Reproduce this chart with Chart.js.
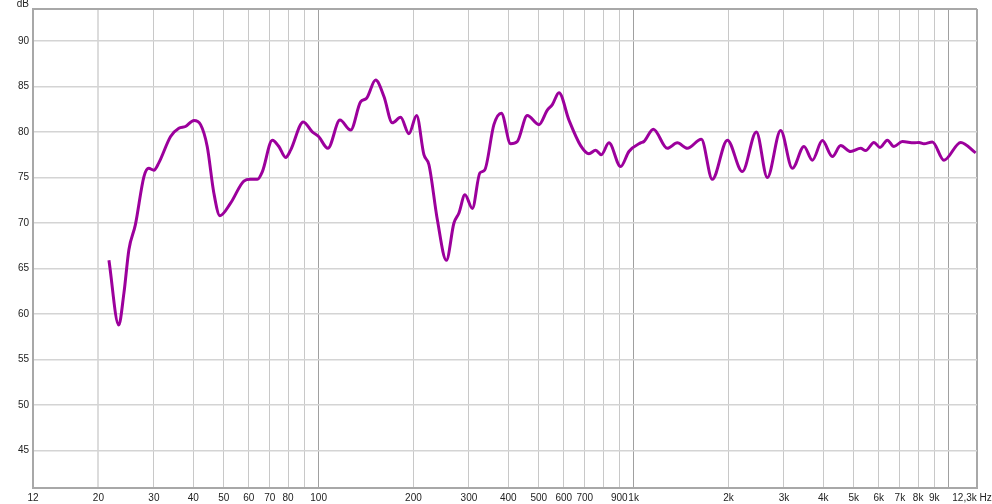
<!DOCTYPE html>
<html>
<head>
<meta charset="utf-8">
<script src="https://cdn.jsdelivr.net/npm/chart.js@4/dist/chart.umd.min.js"></script>
<style>
html,body{margin:0;padding:0;background:#fff;}
#wrap{width:992px;height:504px;}
</style>
</head>
<body>
<div id="wrap"><canvas id="c" width="992" height="504"></canvas></div>
<script>
// Frequency response (Hz -> dB)
const freqs = [21.6, 23.2, 24.1, 25.0, 26.2, 27.9, 28.9, 30.0, 31.1, 33.9, 36.0, 37.8, 40.2, 42.2, 44.3, 46.5, 48.6, 52.6, 57.9, 60.8, 63.9, 66.3, 71.3, 74.8, 78.6, 81.5, 89.4, 95.5, 100, 107, 116.9, 126.4, 135.9, 142.0, 151.7, 161.2, 171.4, 182.1, 193.5, 204.7, 215.9, 224.0, 238.2, 254.4, 268.9, 278.9, 291.4, 307.6, 325.1, 336.5, 360.1, 380.2, 406.9, 427.4, 459.6, 500.5, 532.1, 552.0, 579.4, 623.3, 678.8, 721.4, 757.6, 789.8, 834.8, 909.3, 966.2, 1052, 1078, 1155, 1279, 1376, 1481, 1640, 1777, 1984, 2213, 2452, 2657, 2929, 3190, 3473, 3693, 3972, 4274, 4541, 4886, 5256, 5451, 5792, 6052, 6389, 6702, 7129, 7760, 8050, 8346, 8878, 9662, 10920, 12180];
const levels = [65.9, 58.8, 62.3, 67.1, 69.8, 75.1, 76.0, 75.8, 76.6, 79.5, 80.4, 80.6, 81.25, 80.8, 78.4, 73.3, 70.8, 72.2, 74.6, 74.8, 74.8, 75.65, 79.1, 78.4, 77.2, 78.0, 81.1, 80.0, 79.5, 78.2, 81.3, 80.2, 83.3, 83.7, 85.7, 83.9, 81.0, 81.6, 79.8, 81.8, 77.5, 76.4, 70.35, 65.9, 70.0, 71.1, 73.1, 71.6, 75.5, 75.8, 80.8, 82.06, 78.7, 78.95, 81.8, 80.8, 82.4, 83.0, 84.3, 81.3, 78.5, 77.6, 78.0, 77.5, 78.8, 76.2, 77.85, 78.8, 78.95, 80.3, 78.2, 78.8, 78.2, 79.2, 74.8, 79.1, 75.65, 80.0, 75.0, 80.15, 76.0, 78.4, 76.9, 79.05, 77.3, 78.5, 77.85, 78.2, 77.95, 78.85, 78.3, 79.1, 78.4, 78.95, 78.8, 78.85, 78.7, 78.9, 76.9, 78.85, 77.7];

// Axis ticks
const xMin = 12.4, xMax = 12300;
const xTickValues = [12.4, 20, 30, 40, 50, 60, 70, 80, 90, 100, 200, 300, 400, 500, 600, 700, 800, 900, 1000, 2000, 3000, 4000, 5000, 6000, 7000, 8000, 9000, 10000, 12300];
const xTickLabels = ['12', '20', '30', '40', '50', '60', '70', '80', '', '100', '200', '300', '400', '500', '600', '700', '', '900', '1k', '2k', '3k', '4k', '5k', '6k', '7k', '8k', '9k', '', '12,3k Hz\u2002\u2002'];
const yMin = 40.9, yMax = 93.5;
const yTickValues = [40.9, 45, 50, 55, 60, 65, 70, 75, 80, 85, 90, 93.5];
const yTickLabels = ['', '45', '50', '55', '60', '65', '70', '75', '80', '85', '90', ''];
const yUnit = 'dB';

const points = freqs.map((f, i) => ({x: f, y: levels[i]}));
const FONT = '"Liberation Sans Narrow", "Liberation Sans", Arial, sans-serif';

const unitLabel = {
  id: 'unitLabel',
  afterDraw(chart) {
    const ctx = chart.ctx;
    ctx.save();
    ctx.font = '10px ' + FONT;
    ctx.fillStyle = '#222';
    ctx.textAlign = 'right';
    ctx.textBaseline = 'middle';
    ctx.fillText(yUnit, 29, 4);
    ctx.restore();
  }
};

function isDecade(v) { return v === 100 || v === 1000 || v === 10000; }

new Chart(document.getElementById('c'), {
  type: 'scatter',
  data: {
    datasets: [{
      data: points,
      showLine: true,
      borderColor: '#9c009c',
      borderWidth: 3,
      pointRadius: 0,
      cubicInterpolationMode: 'monotone',
      fill: false
    }]
  },
  plugins: [unitLabel],
  options: {
    responsive: false,
    animation: false,
    events: [],
    layout: {padding: {top: 9, right: 15, left: 0, bottom: 0}},
    plugins: {legend: {display: false}, tooltip: {enabled: false}},
    scales: {
      x: {
        type: 'logarithmic',
        min: xMin,
        max: xMax,
        afterBuildTicks(scale) {
          scale.ticks = xTickValues.map(v => ({value: v}));
        },
        afterFit(scale) {
          scale.height = 16;
          scale.paddingLeft = 0;
          scale.paddingRight = 0;
        },
        ticks: {
          autoSkip: false,
          maxRotation: 0,
          minRotation: 0,
          padding: 4,
          color: '#222',
          font: {family: FONT, size: 10},
          callback(value, index) { return xTickLabels[index]; }
        },
        grid: {
          drawTicks: false,
          color(ctx) {
            const v = ctx.tick && ctx.tick.value;
            if (v === xMin) return 'rgba(0,0,0,0)';
            if (v === xMax) return '#a8a8a8';
            if (isDecade(v)) return '#a0a0a0';
            if (v === 20) return '#dcdcdc';
            return '#c8c8c8';
          },
          lineWidth(ctx) {
            const v = ctx.tick && ctx.tick.value;
            if (v === xMax) return 2;
            if (v === 20) return 2;
            return 1;
          }
        },
        border: {color: '#a8a8a8', width: 2}
      },
      y: {
        min: yMin,
        max: yMax,
        afterBuildTicks(scale) {
          scale.ticks = yTickValues.map(v => ({value: v}));
        },
        afterFit(scale) {
          scale.width = 33;
          scale.paddingTop = 0;
          scale.paddingBottom = 0;
        },
        ticks: {
          padding: 4,
          color: '#222',
          font: {family: FONT, size: 10},
          callback(value, index) { return yTickLabels[index]; }
        },
        grid: {
          drawTicks: false,
          color(ctx) {
            const v = ctx.tick && ctx.tick.value;
            if (v === yMin) return 'rgba(0,0,0,0)';
            if (v === yMax) return '#a8a8a8';
            return '#d4d4d4';
          },
          lineWidth(ctx) {
            const v = ctx.tick && ctx.tick.value;
            if (v === yMax) return 2;
            return 1.5;
          }
        },
        border: {color: '#a8a8a8', width: 2}
      }
    }
  }
});
</script>
</body>
</html>
